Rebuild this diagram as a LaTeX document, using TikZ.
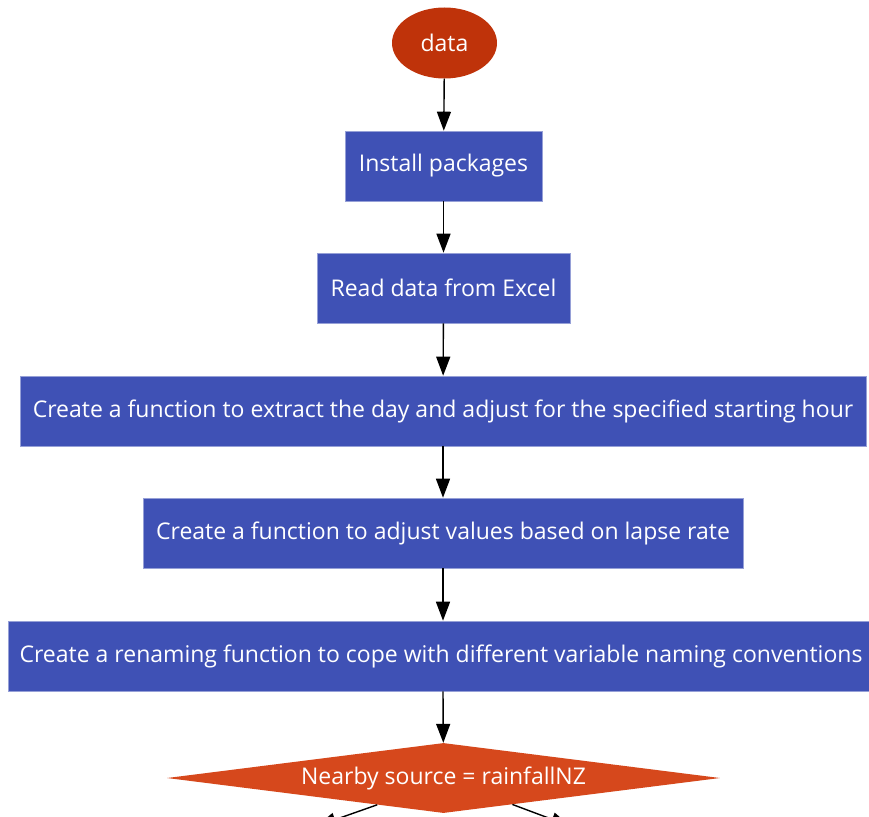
\documentclass[tikz,border=0pt]{standalone}
\usepackage{fontspec}
\setmainfont{Open Sans}
\usetikzlibrary{shapes.geometric,arrows.meta}

\tikzset{
	stepbox/.style={draw={rgb,255:red,150;green,160;blue,215}, line width=0.6pt, fill={rgb,255:red,63;green,81;blue,181}, text=white, inner sep=0pt, minimum height=70pt, font=\fontsize{23}{27}\selectfont},
	startnode/.style={ellipse, fill={rgb,255:red,191;green,51;blue,10}, text=white, inner sep=0pt, minimum width=105pt, minimum height=71pt, font=\fontsize{23}{27}\selectfont},
	choicenode/.style={diamond, shape aspect=8, fill={rgb,255:red,214;green,72;blue,28}, text=white, inner sep=0pt, minimum width=553pt, minimum height=70pt, font=\fontsize{23}{27}\selectfont},
	flowline/.style={line width=1.4pt, -{Triangle[length=19pt,width=14pt]}}
}

\begin{document}
\begin{tikzpicture}[x=1pt,y=-1pt]
	\clip (0,0) rectangle (869,816);
	
	%Shape: Ellipse
	\node [startnode] (data) at (444.5,43) {data};
	%Shape: Rectangle
	\node [stepbox, minimum width=197pt] (install) at (443.5,166) {Install packages};
	%Shape: Rectangle
	\node [stepbox, minimum width=253pt] (readxl) at (443.5,288) {Read data from Excel};
	%Shape: Rectangle
	\node [stepbox, minimum width=846pt] (dayfn) at (443,411) {Create a function to extract the day and adjust for the specified starting hour};
	%Shape: Rectangle
	\node [stepbox, minimum width=600pt] (lapsefn) at (443,533) {Create a function to adjust values based on lapse rate};
	%Shape: Rectangle
	\node [stepbox, minimum width=866pt] (renamefn) at (441,656) {Create a renaming function to cope with different variable naming conventions};
	%Shape: Diamond
	\node [choicenode] (nearby) at (443.5,778) {Nearby source = rainfallNZ};
	
	\coordinate (yesend) at (317,826);
	\coordinate (noend) at (570,826);
	
	%Straight Lines
	\draw [flowline] (data) -- (install);
	\draw [flowline] (install) -- (readxl);
	\draw [flowline] (readxl) -- (dayfn);
	\draw [flowline] (dayfn) -- (lapsefn);
	\draw [flowline] (lapsefn) -- (lapsefn |- renamefn.north);
	\draw [flowline] (lapsefn |- renamefn.south) -- (nearby);
	\draw [flowline] (nearby.-158.5) -- (yesend);
	\draw [flowline] (nearby.-21.2) -- (noend);
\end{tikzpicture}
\end{document}
